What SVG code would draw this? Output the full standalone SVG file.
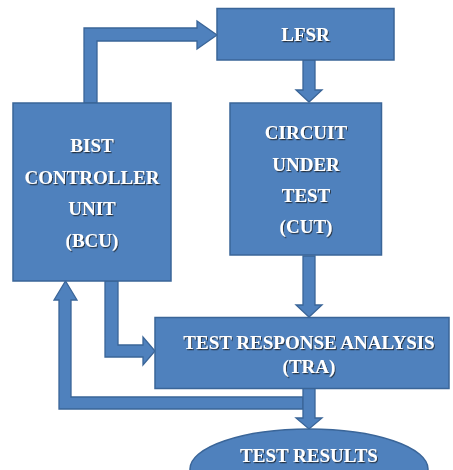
<svg xmlns="http://www.w3.org/2000/svg" width="453" height="470" viewBox="0 0 453 470">
<defs>
<filter id="sh" x="-10%" y="-30%" width="120%" height="160%">
<feDropShadow dx="1" dy="1.2" stdDeviation="0.7" flood-color="#1a1a1a" flood-opacity="0.75"/>
</filter>
</defs>
<style>
.shape{fill:#4F81BD;stroke:#3A6598;stroke-width:1.5;stroke-linejoin:miter}
.arrow{fill:#4F81BD;stroke:#3A6598;stroke-width:1.3;stroke-linejoin:miter}
.lbl{font-family:"Liberation Serif","Times New Roman",serif;font-weight:bold;font-size:19px;fill:#ffffff;text-anchor:middle;filter:url(#sh)}
</style>
<rect width="453" height="470" fill="#ffffff"/>
<g id="connectors">
<polygon class="arrow" points="84,103 84,28 197,28 197,21 217,35 197,49 197,41 97,41 97,103"/>
<polygon class="arrow" points="303,60 315,60 315,90 322,90 309,102 296,90 303,90"/>
<polygon class="arrow" points="303,256 315,256 315,305 322,305 309,317 296,305 303,305"/>
<polygon class="arrow" points="105,281 118,281 118,345 143,345 143,337 155,351 143,365 143,357 105,357"/>
<polygon class="arrow" points="303,397 303,409 59,409 59,300 54,300 65.5,281 77,300 71,300 71,397"/>
<polygon class="arrow" points="303,388 315,388 315,418 322,418 309,429 296,418 303,418"/>
</g>
<g id="lfsr">
<rect class="shape" x="217" y="8.5" width="177" height="51.5"/>
<text class="lbl" x="305.5" y="41">LFSR</text>
</g>
<g id="bcu">
<rect class="shape" x="13" y="103" width="158" height="178"/>
<text class="lbl" x="92" y="152">BIST</text>
<text class="lbl" x="92" y="184">CONTROLLER</text>
<text class="lbl" x="92" y="215">UNIT</text>
<text class="lbl" x="92" y="246.5">(BCU)</text>
</g>
<g id="cut">
<rect class="shape" x="230" y="103" width="151.5" height="152"/>
<text class="lbl" x="306" y="139">CIRCUIT</text>
<text class="lbl" x="306" y="170.5">UNDER</text>
<text class="lbl" x="306" y="202">TEST</text>
<text class="lbl" x="306" y="233">(CUT)</text>
</g>
<g id="tra">
<rect class="shape" x="155" y="317.5" width="294" height="71"/>
<text class="lbl" x="309" y="348.5">TEST RESPONSE ANALYSIS</text>
<text class="lbl" x="309" y="373">(TRA)</text>
</g>
<g id="results">
<ellipse class="shape" cx="309" cy="469" rx="119" ry="40"/>
<text class="lbl" x="309" y="462">TEST RESULTS</text>
</g>
</svg>
